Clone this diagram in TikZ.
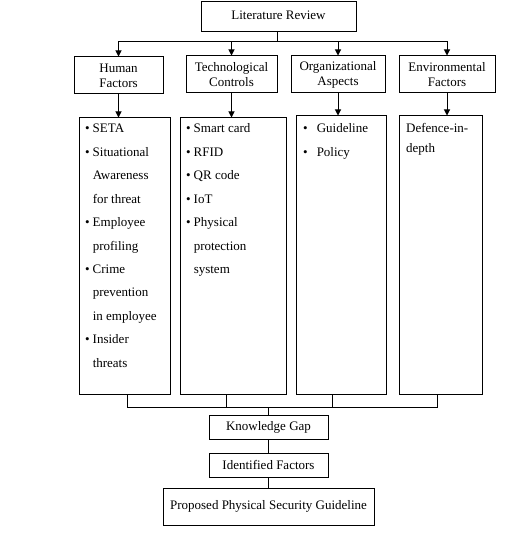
\documentclass[tikz,border=0pt]{standalone}
\usepackage{fontspec}
\setmainfont{Liberation Serif}
\usetikzlibrary{arrows.meta,calc}
\begin{document}
\begin{tikzpicture}[x=1pt,y=-1pt,
  box/.style={draw,line width=1pt,inner sep=0pt,align=center,font=\fontsize{13}{15}\selectfont},
  conn/.style={line width=1pt},
  arr/.style={line width=1pt,-{Triangle[length=6pt,width=6pt]}},
  lst/.style={anchor=base west,inner sep=0pt,font=\fontsize{13}{23.4}\selectfont}]
\useasboundingbox (0,0) rectangle (523,540);
% top
\node[box,minimum width=155pt,minimum height=30pt] (LR) at (278.5,17) {\raisebox{4pt}{Literature Review}};
\node[box,minimum width=89pt,minimum height=37pt] (HF) at (118.5,75.5) {Human\\Factors};
\node[box,minimum width=91pt,minimum height=37pt] (TC) at (231.5,74.5) {Technological\\Controls};
\node[box,minimum width=94pt,minimum height=37pt] (OA) at (338,74.5) {Organizational\\Aspects};
\node[box,minimum width=96pt,minimum height=37pt] (EF) at (447,74.5) {Environmental\\Factors};
% lists
\node[box,minimum width=91pt,minimum height=276pt] (H3) at (124.5,256) {};
\node[box,minimum width=106pt,minimum height=276pt] (T3) at (233,256) {};
\node[box,minimum width=90pt,minimum height=278pt] (O3) at (341,255) {};
\node[box,minimum width=83pt,minimum height=278pt] (E3) at (440.5,255) {};
\node[lst] (H3t) at (85,133) {\begin{tabular}[t]{@{}l@{\hspace{3pt}}l@{}}
\textbullet & SETA\\
\textbullet & Situational\\
 & Awareness\\
 & for threat\\
\textbullet & Employee\\
 & profiling\\
\textbullet & Crime\\
 & prevention\\
 & in employee\\
\textbullet & Insider\\
 & threats
\end{tabular}};
\node[lst] (T3t) at (186,133) {\begin{tabular}[t]{@{}l@{\hspace{3pt}}l@{}}
\textbullet & Smart card\\
\textbullet & RFID\\
\textbullet & QR code\\
\textbullet & IoT\\
\textbullet & Physical\\
 & protection\\
 & system
\end{tabular}};
\node[lst] (O3t) at (303,133) {\begin{tabular}[t]{@{}l@{\hspace{9pt}}l@{}}
\textbullet & Guideline\\
\textbullet & Policy
\end{tabular}};
\node[lst,font=\fontsize{13}{20}\selectfont] (E3t) at (406,133) {\begin{tabular}[t]{@{}l@{}}
Defence-in-\\
depth
\end{tabular}};
% bottom
\node[box,minimum width=119pt,minimum height=24pt] (KG) at (268.5,427) {Knowledge Gap};
\node[box,minimum width=119pt,minimum height=24pt] (IF) at (268.5,465) {Identified Factors};
\node[box,minimum width=211pt,minimum height=37pt] (PG) at (268.5,506.5) {\raisebox{4pt}{Proposed Physical Security Guideline}};
\coordinate (top) at (277,42);
\coordinate (jn) at (268,407);
% connectors top
\draw[conn] (LR.south -| top) -- (top);
\draw[arr] (top) -| (HF.north);
\draw[arr] (top) -| (TC.north);
\draw[arr] (top) -| (OA.north);
\draw[arr] (top) -| (EF.north);
\draw[arr] (HF.south) -- (HF.south |- H3.north);
\draw[arr] (TC.south) -- (TC.south |- T3.north);
\draw[arr] (OA.south) -- (OA.south |- O3.north);
\draw[arr] (EF.south) -- (EF.south |- E3.north);
% connectors bottom
\draw[conn] ([xshift=2.5pt]H3.south) |- (jn);
\draw[conn] ([xshift=-7pt]T3.south) |- (jn);
\draw[conn] ([xshift=-9pt]O3.south) |- (jn);
\draw[conn] ([xshift=-3.5pt]E3.south) |- (jn);
\draw[conn] (jn) -- (KG.north -| jn);
\draw[conn] (KG.south -| jn) -- (IF.north -| jn);
\draw[conn] (IF.south -| jn) -- (PG.north -| jn);
\end{tikzpicture}
\end{document}
